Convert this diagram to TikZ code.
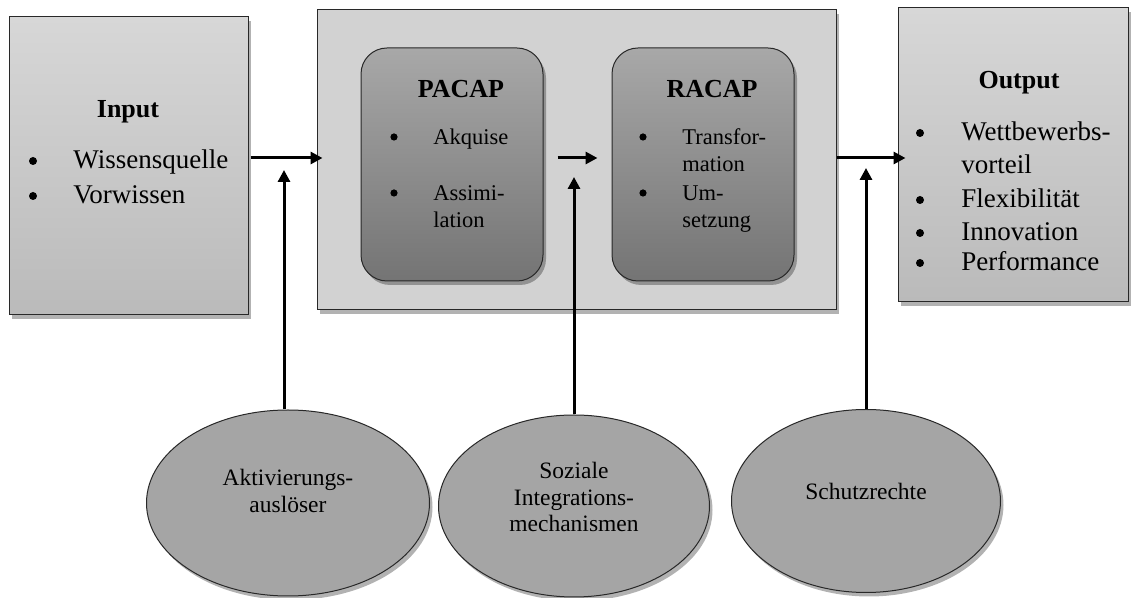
\documentclass[tikz,border=0pt]{standalone}
\usepackage{fontspec}
\setmainfont{Liberation Serif}
\usetikzlibrary{shadows,arrows.meta,shapes.geometric,calc}
\definecolor{boxtop}{RGB}{215,215,215}
\definecolor{boxbot}{RGB}{186,186,186}
\definecolor{midfill}{RGB}{210,210,210}
\definecolor{intop}{RGB}{168,168,168}
\definecolor{inbot}{RGB}{116,116,116}
\definecolor{ellfill}{RGB}{165,165,165}
\definecolor{edge}{RGB}{40,40,40}
\tikzset{
  shad/.style={drop shadow={shadow xshift=1.5pt,shadow yshift=-2pt,opacity=0.3,fill=black}},
  sidebox/.style={rectangle,draw=edge,line width=0.5pt,top color=boxtop,bottom color=boxbot,shad,inner sep=0pt},
  midbox/.style={rectangle,draw=edge,line width=0.5pt,fill=midfill,shad,inner sep=0pt},
  capbox/.style={rectangle,rounded corners=13pt,draw=edge,line width=0.5pt,top color=intop,bottom color=inbot,shad,inner sep=0pt,minimum width=91pt,minimum height=116.5pt},
  oval/.style={ellipse,draw=edge,line width=0.5pt,fill=ellfill,shad,inner sep=0pt},
  arr/.style={line width=1.5pt,-{Triangle[length=6pt,width=6pt]}},
  dot/.style={circle,fill=black,inner sep=0pt,minimum size=4pt},
  sdot/.style={circle,fill=black,inner sep=0pt,minimum size=3.6pt},
  big/.style={font=\fontsize{13.5}{16}\selectfont,inner sep=0pt,text height=1.5ex,text depth=0.25ex},
  small/.style={font=\fontsize{11.25}{13}\selectfont,inner sep=0pt,text height=1.5ex,text depth=0.25ex},
  ttl/.style={font=\fontsize{13}{15}\selectfont\bfseries,inner sep=0pt},
  etxt/.style={font=\fontsize{11.75}{13.3}\selectfont,align=center,inner sep=0pt},
}
\begin{document}
\begin{tikzpicture}[x=0.5pt,y=-0.5pt]
\useasboundingbox[fill=white] (0,0) rectangle (1132,598);
% boxes
\node[sidebox,minimum width=119.5pt,minimum height=149pt] (inp) at (128.5,166) {};
\node[midbox,minimum width=259.5pt,minimum height=150pt] (mid) at (576.5,160) {};
\node[capbox] (pacap) at (452,164.5) {};
\node[capbox] (racap) at (703,164.5) {};
\node[sidebox,minimum width=115pt,minimum height=147pt] (out) at (1013,155) {};
% ellipses
\node[oval,minimum width=141.5pt,minimum height=93pt] (e1) at (288,503) {};
\node[oval,minimum width=135.5pt,minimum height=91pt] (e2) at (574,506) {};
\node[oval,minimum width=134.5pt,minimum height=91.5pt] (e3) at (866,501) {};
% input text
\node[ttl] (tin) at (128,112) {Input};
\node[dot] (bi1) at (33,161) {};
\node[big,anchor=west] (ti1) at (73,163) {Wissensquelle};
\node[dot] (bi2) at (33,196) {};
\node[big,anchor=west] (ti2) at (73,198) {Vorwissen};
% PACAP text
\node[ttl] (tpa) at (461,89) {PACAP};
\node[sdot] (bp1) at (394,137) {};
\node[small,anchor=west] (tp1) at (433,139) {Akquise};
\node[sdot] (bp2) at (394,193) {};
\node[small,anchor=west] (tp2) at (433,195) {Assimi-};
\node[small,anchor=west] (tp3) at (433,222) {lation};
% RACAP text
\node[ttl] (tra) at (712,89) {RACAP};
\node[sdot] (br1) at (643,137) {};
\node[small,anchor=west] (tr1) at (682,139) {Transfor-};
\node[small,anchor=west] (tr2) at (682,166) {mation};
\node[sdot] (br2) at (643,193) {};
\node[small,anchor=west] (tr3) at (682,195) {Um-};
\node[small,anchor=west] (tr4) at (682,222) {setzung};
% output text
\node[ttl] (tout) at (1019,83) {Output};
\node[dot] (bo1) at (920,133) {};
\node[big,anchor=west] (to1) at (961,135) {Wettbewerbs-};
\node[big,anchor=west] (to2) at (961,168) {vorteil};
\node[dot] (bo3) at (920,200) {};
\node[big,anchor=west] (to3) at (961,202) {Flexibilität};
\node[dot] (bo4) at (920,233) {};
\node[big,anchor=west] (to4) at (961,235) {Innovation};
\node[dot] (bo5) at (920,263) {};
\node[big,anchor=west] (to5) at (961,265) {Performance};
% ellipse text
\node[etxt] (te1) at (288,491) {Aktivierungs-\\auslöser};
\node[etxt] (te2) at (574,497) {Soziale\\Integrations-\\mechanismen};
\node[etxt] (te3) at (866,491) {Schutzrechte};
% horizontal arrows
\draw[arr] ($(inp.east)+(2,-8)$) -- ($(mid.west)+(6,-2)$);
\draw[arr] ($(pacap.east)+(14,-6.5)$) -- ($(racap.west)+(-14,-6.5)$);
\draw[arr] ($(mid.east)+(0,-2)$) -- ($(out.west)+(8,3)$);
% vertical arrows
\coordinate (t1) at (284,170);
\coordinate (t2) at (574,177);
\coordinate (t3) at (866,168);
\draw[arr] (e1.north -| t1) -- (t1);
\draw[arr] (e2.north) -- (t2);
\draw[arr] (e3.north) -- (t3);
\end{tikzpicture}
\end{document}
